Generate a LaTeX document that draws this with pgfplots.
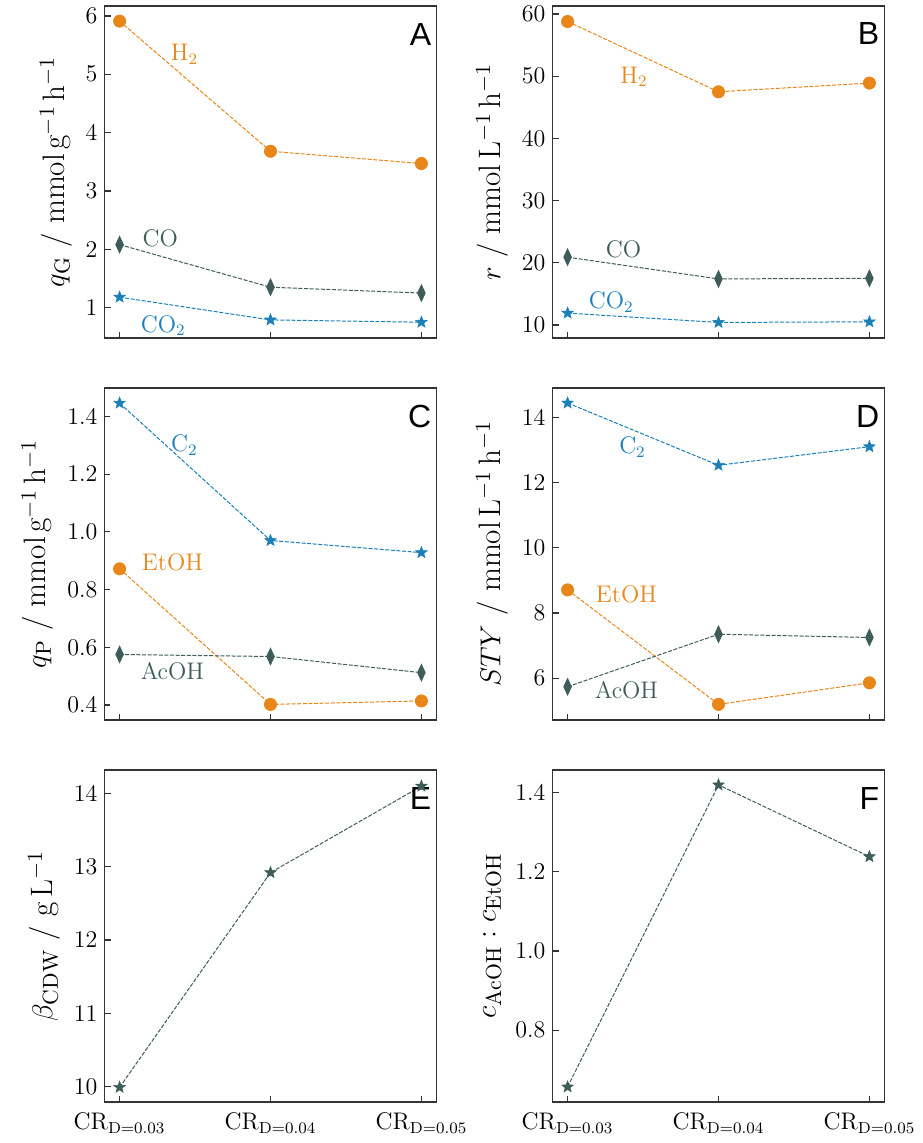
\documentclass[border=0pt]{standalone}
\usepackage{pgfplots}
\pgfplotsset{compat=1.18}
\usepgfplotslibrary{groupplots}
\usepackage{fontspec}
\newfontfamily\letterfont{Liberation Sans}
\definecolor{corange}{HTML}{E8861A}
\definecolor{cslate}{HTML}{3E5C5A}
\definecolor{cblue}{HTML}{1A80B8}

% filled five-pointed star
\pgfdeclareplotmark{fstar}{%
  \pgfpathmoveto{\pgfpointpolar{90}{\pgfplotmarksize}}%
  \pgfpathlineto{\pgfpointpolar{126}{0.42\pgfplotmarksize}}%
  \pgfpathlineto{\pgfpointpolar{162}{\pgfplotmarksize}}%
  \pgfpathlineto{\pgfpointpolar{198}{0.42\pgfplotmarksize}}%
  \pgfpathlineto{\pgfpointpolar{234}{\pgfplotmarksize}}%
  \pgfpathlineto{\pgfpointpolar{270}{0.42\pgfplotmarksize}}%
  \pgfpathlineto{\pgfpointpolar{306}{\pgfplotmarksize}}%
  \pgfpathlineto{\pgfpointpolar{342}{0.42\pgfplotmarksize}}%
  \pgfpathlineto{\pgfpointpolar{18}{\pgfplotmarksize}}%
  \pgfpathlineto{\pgfpointpolar{54}{0.42\pgfplotmarksize}}%
  \pgfpathclose
  \pgfusepathqfillstroke
}

\tikzset{
  ser/.style={color=#1, line width=0.5pt, dash pattern=on 2pt off 0.8pt},
  circ/.style={ser=#1, mark=*, mark size=3pt, mark options={solid, fill=#1, draw=#1}},
  diam/.style={ser=#1, mark=diamond*, mark size=4pt, mark options={solid, fill=#1, draw=#1, xscale=0.62}},
  star/.style={ser=#1, mark=fstar, mark size=3pt, mark options={solid, fill=#1, draw=#1, line width=0.3pt}},
  panel/.style={font=\letterfont\fontsize{16}{18}\selectfont, anchor=north east, inner sep=0pt},
  ann/.style={font=\fontsize{12}{14}\selectfont, text=#1},
}

\begin{document}
\begin{tikzpicture}
\begin{groupplot}[
  group style={group size=2 by 3, horizontal sep=58pt, vertical sep=25pt,
    xticklabels at=edge bottom},
  width=166pt, height=166pt, scale only axis,
  xmin=-0.1, xmax=2.1,
  xtick={0,1,2},
  xticklabels={$\mathrm{CR}_{\mathrm{D}=0.03}$, $\mathrm{CR}_{\mathrm{D}=0.04}$, $\mathrm{CR}_{\mathrm{D}=0.05}$},
  tick align=inside, xtick pos=left, ytick pos=left,
  major tick length=3pt,
  axis line style={black!80, line width=0.6pt},
  tick style={black!80, line width=0.6pt},
  tick label style={font=\fontsize{12}{14}\selectfont},
  label style={font=\fontsize{15.5}{18}\selectfont},
  xticklabel style={yshift=-2pt},
  clip=false,
]
% A
\nextgroupplot[ymin=0.48, ymax=6.17, ytick={1,2,3,4,5,6},
  ylabel={$q_\mathrm{G}$ / $\mathrm{mmol\,g^{-1}\,h^{-1}}$}]
\addplot[circ=corange] coordinates {(0,5.91) (1,3.68) (2,3.47)};
\addplot[diam=cslate] coordinates {(0,2.08) (1,1.35) (2,1.25)};
\addplot[star=cblue] coordinates {(0,1.18) (1,0.79) (2,0.75)};
\node[ann=corange] at (axis cs:0.43,5.34) {H$_2$};
\node[ann=cslate] at (axis cs:0.27,2.18) {CO};
\node[ann=cblue] at (axis cs:0.29,0.69) {CO$_2$};
\node[panel] at (rel axis cs:0.985,0.95) {A};
% B
\nextgroupplot[ymin=7.9, ymax=61.3, ytick={10,20,30,40,50,60},
  ylabel={$r$ / $\mathrm{mmol\,L^{-1}\,h^{-1}}$}]
\addplot[circ=corange] coordinates {(0,58.8) (1,47.5) (2,48.9)};
\addplot[diam=cslate] coordinates {(0,20.9) (1,17.4) (2,17.5)};
\addplot[star=cblue] coordinates {(0,11.9) (1,10.4) (2,10.5)};
\node[ann=corange] at (axis cs:0.44,49.9) {H$_2$};
\node[ann=cslate] at (axis cs:0.37,22.1) {CO};
\node[ann=cblue] at (axis cs:0.29,13.7) {CO$_2$};
\node[panel] at (rel axis cs:0.985,0.95) {B};
% C
\nextgroupplot[ymin=0.348, ymax=1.4985, ytick={0.4,0.6,0.8,1.0,1.2,1.4},
  yticklabel style={/pgf/number format/.cd, fixed, fixed zerofill, precision=1},
  ylabel={$q_\mathrm{P}$ / $\mathrm{mmol\,g^{-1}\,h^{-1}}$}]
\addplot[star=cblue] coordinates {(0,1.446) (1,0.970) (2,0.928)};
\addplot[circ=corange] coordinates {(0,0.872) (1,0.402) (2,0.414)};
\addplot[diam=cslate] coordinates {(0,0.575) (1,0.568) (2,0.512)};
\node[ann=cblue] at (axis cs:0.43,1.30) {C$_2$};
\node[ann=corange] at (axis cs:0.35,0.893) {EtOH};
\node[ann=cslate] at (axis cs:0.35,0.516) {AcOH};
\node[panel] at (rel axis cs:0.985,0.95) {C};
% D
\nextgroupplot[ymin=4.72, ymax=14.9, ytick={6,8,10,12,14},
  ylabel={$STY$ / $\mathrm{mmol\,L^{-1}\,h^{-1}}$}]
\addplot[star=cblue] coordinates {(0,14.44) (1,12.53) (2,13.1)};
\addplot[circ=corange] coordinates {(0,8.71) (1,5.2) (2,5.86)};
\addplot[diam=cslate] coordinates {(0,5.74) (1,7.35) (2,7.25)};
\node[ann=cblue] at (axis cs:0.43,13.09) {C$_2$};
\node[ann=corange] at (axis cs:0.39,8.56) {EtOH};
\node[ann=cslate] at (axis cs:0.39,5.62) {AcOH};
\node[panel] at (rel axis cs:0.985,0.95) {D};
% E
\nextgroupplot[ymin=9.79, ymax=14.32, ytick={10,11,12,13,14},
  ylabel={$\beta_\mathrm{CDW}$ / $\mathrm{g\,L^{-1}}$}]
\addplot[star=cslate] coordinates {(0,9.99) (1,12.92) (2,14.1)};
\node[panel] at (rel axis cs:0.985,0.95) {E};
% F
\nextgroupplot[ymin=0.619, ymax=1.4566, ytick={0.8,1.0,1.2,1.4},
  yticklabel style={/pgf/number format/.cd, fixed, fixed zerofill, precision=1},
  ylabel={$c_\mathrm{AcOH} : c_\mathrm{EtOH}$}]
\addplot[star=cslate] coordinates {(0,0.657) (1,1.419) (2,1.238)};
\node[panel] at (rel axis cs:0.985,0.95) {F};
\end{groupplot}
\pgfresetboundingbox
\path (group c1r1.north west) ++(-52.25pt,3pt) rectangle ++(461pt,-571.5pt);
\end{tikzpicture}
\end{document}
